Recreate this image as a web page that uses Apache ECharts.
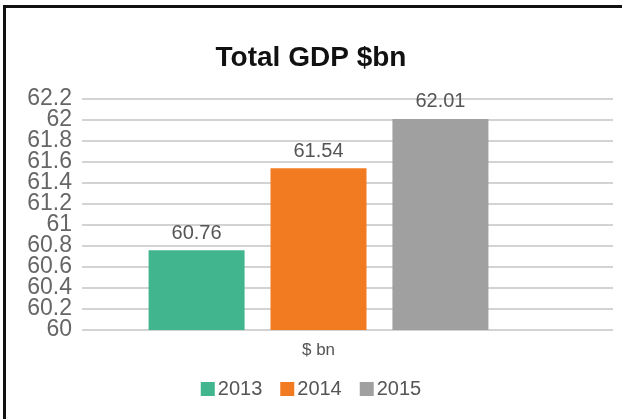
<!DOCTYPE html>
<html>
<head>
<meta charset="utf-8">
<script src="https://cdn.jsdelivr.net/npm/echarts@6/dist/echarts.min.js"></script>
<style>
  html, body { margin: 0; padding: 0; background: #fff; }
  #frame { position: absolute; left: 3px; top: 5px; width: 700px; height: 500px;
           border-left: 3px solid #111; border-top: 3px solid #111; box-sizing: border-box; }
  #chart { position: absolute; left: 0; top: 0; width: 622px; height: 419px; }
</style>
</head>
<body>
<div id="frame"></div>
<div id="chart"></div>
<script>
// Chart data
const categories = ['$ bn'];
const seriesNames = ['2013', '2014', '2015'];
const seriesValues = [[60.76], [61.54], [62.01]];
const seriesColors = ['#40b58e', '#f27b22', '#a0a0a0'];
const yMin = 60, yMax = 62.2, yStep = 0.2;

const chart = echarts.init(document.getElementById('chart'), null, { renderer: 'canvas' });

const yBase = {
  type: 'value', min: yMin, max: yMax, interval: yStep, position: 'left', offset: 0,
  axisLine: { show: false }, axisTick: { show: false }
};
const tickText = v => String(+v.toFixed(1));
// The ticks are packed tightly, so even and odd tick labels sit on two
// overlaid axes; that keeps every label from being dropped as an overlap.
const labelStyle = (parity) => ({
  margin: 10, showMinLabel: true, showMaxLabel: true, hideOverlap: false,
  fontFamily: 'Liberation Sans, sans-serif', fontSize: 23, color: '#666',
  formatter: (v, idx) => (idx % 2 === parity ? tickText(v) : '')
});

chart.setOption({
  animation: false,
  title: {
    text: 'Total GDP $bn', left: 'center', top: 39,
    textStyle: { fontFamily: 'Liberation Sans Narrow, Liberation Sans, sans-serif',
                 fontWeight: 'bold', fontSize: 28, color: '#111' }
  },
  legend: {
    data: seriesNames, bottom: 15, left: 'center',
    itemWidth: 14, itemHeight: 14, itemGap: 18,
    icon: 'rect',
    textStyle: { fontFamily: 'Liberation Sans, sans-serif', fontSize: 20, color: '#555', padding: [0, 0, 0, -2] }
  },
  grid: [
    { left: 82, right: 9, top: 99, bottom: 89 },
    { left: 82, right: 67, top: 99, bottom: 89 }
  ],
  xAxis: [
    { type: 'category', gridIndex: 0, data: categories, show: false },
    { type: 'category', gridIndex: 1, data: categories,
      axisLine: { show: false }, axisTick: { show: false },
      axisLabel: { fontFamily: 'Liberation Sans, sans-serif', fontSize: 17, color: '#555', margin: 12 } }
  ],
  yAxis: [
    Object.assign({}, yBase, {
      gridIndex: 0, axisLabel: labelStyle(0),
      splitLine: { lineStyle: { color: '#c4c4c4', width: 1.5 } }
    }),
    Object.assign({}, yBase, {
      gridIndex: 0, axisLabel: labelStyle(1), splitLine: { show: false }
    }),
    Object.assign({}, yBase, {
      gridIndex: 1, axisLabel: { show: false }, splitLine: { show: false }
    })
  ],
  series: seriesNames.map((name, i) => ({
    name, type: 'bar', xAxisIndex: 1, yAxisIndex: 2,
    data: seriesValues[i], barWidth: 96, barGap: '27%',
    itemStyle: { color: seriesColors[i] },
    label: { show: true, position: 'top', distance: 7,
             fontFamily: 'Liberation Sans, sans-serif', fontSize: 20, color: '#555' }
  }))
});
</script>
</body>
</html>
